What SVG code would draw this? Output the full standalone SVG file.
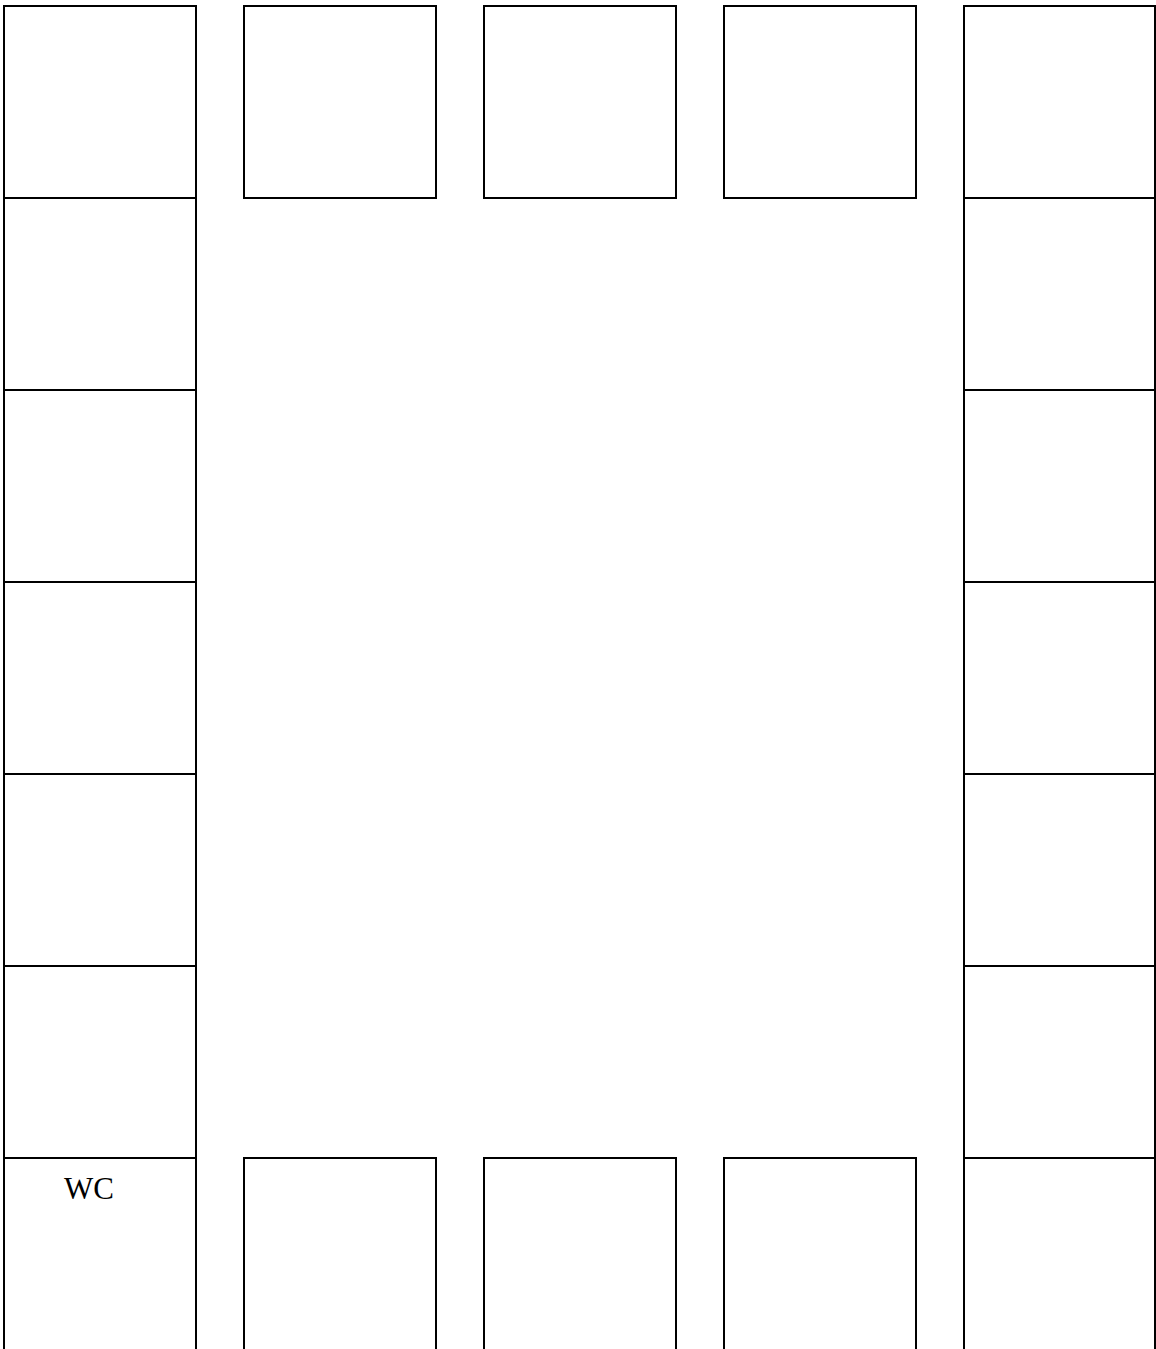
<svg xmlns="http://www.w3.org/2000/svg" width="1156" height="1349" viewBox="0 0 1156 1349">
<style>
.c{fill:#fff;stroke:#000;stroke-width:2}
.o{fill:none;stroke:#000;stroke-width:2}
.t{font-family:"Liberation Serif","Times New Roman",serif;font-size:31px;fill:#000}
</style>
<rect width="1156" height="1349" fill="#fff"/>
<g id="left-1"><rect class="c" x="4" y="6" width="192" height="192"/></g>
<g id="left-2"><rect class="c" x="4" y="198" width="192" height="192"/></g>
<g id="left-3"><rect class="c" x="4" y="390" width="192" height="192"/></g>
<g id="left-4"><rect class="c" x="4" y="582" width="192" height="192"/></g>
<g id="left-5"><rect class="c" x="4" y="774" width="192" height="192"/></g>
<g id="left-6"><rect class="c" x="4" y="966" width="192" height="192"/></g>
<g id="wc"><path class="o" d="M4,1350 V1158 H196 V1350"/><text class="t" x="89" y="1199" text-anchor="middle">WC</text></g>
<g id="top-1"><rect class="c" x="244" y="6" width="192" height="192"/></g>
<g id="top-2"><rect class="c" x="484" y="6" width="192" height="192"/></g>
<g id="top-3"><rect class="c" x="724" y="6" width="192" height="192"/></g>
<g id="right-1"><rect class="c" x="964" y="6" width="191" height="192"/></g>
<g id="right-2"><rect class="c" x="964" y="198" width="191" height="192"/></g>
<g id="right-3"><rect class="c" x="964" y="390" width="191" height="192"/></g>
<g id="right-4"><rect class="c" x="964" y="582" width="191" height="192"/></g>
<g id="right-5"><rect class="c" x="964" y="774" width="191" height="192"/></g>
<g id="right-6"><rect class="c" x="964" y="966" width="191" height="192"/></g>
<g id="right-7"><path class="o" d="M964,1350 V1158 H1155 V1350"/></g>
<g id="bottom-1"><path class="o" d="M244,1350 V1158 H436 V1350"/></g>
<g id="bottom-2"><path class="o" d="M484,1350 V1158 H676 V1350"/></g>
<g id="bottom-3"><path class="o" d="M724,1350 V1158 H916 V1350"/></g>
<g id="connectors"></g>
</svg>
